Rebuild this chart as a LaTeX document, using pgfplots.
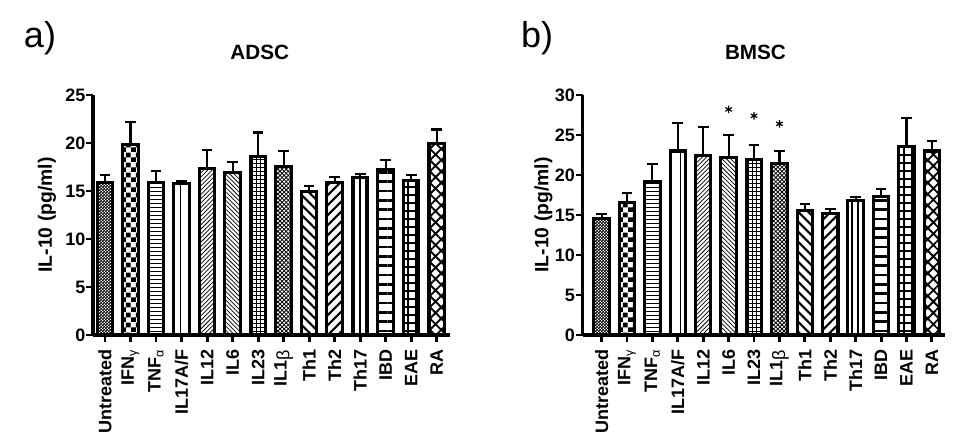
\documentclass[border=0pt]{standalone}
\usepackage{fontspec}
\setmainfont{Liberation Sans}
\usepackage{pgfplots}
\pgfplotsset{compat=1.18}
\usetikzlibrary{patterns,patterns.meta}

\pgfdeclarepatternformonly{bigchecker}{\pgfqpoint{0pt}{0pt}}{\pgfqpoint{7.6pt}{7.6pt}}{\pgfqpoint{7.6pt}{7.6pt}}{%
  \pgfpathrectangle{\pgfqpoint{0pt}{0pt}}{\pgfqpoint{3.8pt}{3.8pt}}%
  \pgfpathrectangle{\pgfqpoint{3.8pt}{3.8pt}}{\pgfqpoint{3.8pt}{3.8pt}}%
  \pgfusepath{fill}}
\pgfdeclarepatternformonly{smallchecker}{\pgfqpoint{0pt}{0pt}}{\pgfqpoint{2.2pt}{2.2pt}}{\pgfqpoint{2.2pt}{2.2pt}}{%
  \pgfpathrectangle{\pgfqpoint{0pt}{0pt}}{\pgfqpoint{1.2pt}{1.2pt}}%
  \pgfpathrectangle{\pgfqpoint{1.1pt}{1.1pt}}{\pgfqpoint{1.2pt}{1.2pt}}%
  \pgfusepath{fill}}

\pgfplotsset{
  mybar/.style={ybar, bar width=11.6pt, bar shift=0pt, draw=black, line width=2.3pt,
    error bars/y dir=plus, error bars/y explicit,
    error bars/error bar style={line width=1.6pt, black},
    error bars/error mark options={line width=1.6pt, mark size=4pt, black, rotate=90}},
  p0/.style={mybar, pattern=smallchecker},
  p1/.style={mybar, pattern=bigchecker},
  p2/.style={mybar, pattern={Lines[angle=0,distance=3pt,line width=0.5pt]}},
  p3/.style={mybar, pattern={Lines[angle=90,distance=7.5pt,line width=0.6pt]}},
  p4/.style={mybar, pattern={Lines[angle=45,distance=2.3pt,line width=0.55pt]}},
  p5/.style={mybar, pattern={Lines[angle=-45,distance=2.3pt,line width=0.55pt]}},
  p6/.style={mybar, pattern={Hatch[angle=0,distance=3pt,line width=0.55pt]}},
  p7/.style={mybar, pattern={Hatch[angle=45,distance=2.2pt,line width=0.6pt]}},
  p8/.style={mybar, pattern={Lines[angle=-45,distance=5.3pt,line width=1.6pt]}},
  p9/.style={mybar, pattern={Lines[angle=45,distance=5.3pt,line width=1.6pt]}},
  p10/.style={mybar, pattern={Lines[angle=90,distance=4.5pt,line width=1.5pt]}},
  p11/.style={mybar, pattern={Lines[angle=0,distance=7pt,line width=1.9pt]}},
  p12/.style={mybar, pattern={Hatch[angle=0,distance=6pt,line width=1.3pt]}},
  p13/.style={mybar, pattern={Hatch[angle=45,distance=6pt,line width=1.4pt]}},
  myaxis/.style={
    scale only axis, height=180pt, ymin=0,
    axis x line*=bottom, axis y line*=left,
    axis line style={line width=2.6pt},
    tick style={line width=2.2pt, black}, tick align=outside, major tick length=5pt,
    xtick={0,...,13},
    xticklabels={Untreated,IFN\textsubscript{\mdseries γ},TNF\textsubscript{\mdseries α},IL17A/F,IL12,IL6,IL23,IL1\raisebox{-0.3ex}{\mdseries β},Th1,Th2,Th17,IBD,EAE,RA},
    xticklabel style={rotate=90, anchor=east, font=\fontsize{13.5}{15}\selectfont\bfseries, inner sep=1.5pt, inner xsep=6pt},
    yticklabel style={font=\fontsize{13.5}{15}\selectfont\bfseries, inner sep=0.5pt},
    /pgf/number format/assume math mode=true,
    ylabel={IL-10 (pg/ml)},
    label style={font=\fontsize{14.5}{16}\selectfont\bfseries},
    title style={font=\fontsize{15.5}{17}\selectfont\bfseries, anchor=center, yshift=0pt},
    clip=false,
  },
}

\begin{document}
\begin{tikzpicture}
\path[use as bounding box] (0,0) rectangle (725.25pt,332.25pt);
\node[font=\fontsize{27}{29}\selectfont] at (30pt,303.75pt) {a)};
\node[font=\fontsize{27}{29}\selectfont] at (402.75pt,303.75pt) {b)};

\begin{axis}[myaxis, at={(69.75pt,81pt)}, anchor=south west, width=267.75pt,
  xmin=-0.47, xmax=13.52, ymax=25, ytick={0,5,...,25},
  ylabel style={at={(axis description cs:-0.129,0.5)}, anchor=center},
  title={ADSC}, title style={at={(axis description cs:0.467,1.146)}}]
\addplot[p0] coordinates {(0,15.9) +- (0,0.8)};
\addplot[p1] coordinates {(1,19.8) +- (0,2.4)};
\addplot[p2] coordinates {(2,15.9) +- (0,1.2)};
\addplot[p3] coordinates {(3,15.8) +- (0,0.2)};
\addplot[p4] coordinates {(4,17.3) +- (0,2.0)};
\addplot[p5] coordinates {(5,16.9) +- (0,1.1)};
\addplot[p6] coordinates {(6,18.6) +- (0,2.5)};
\addplot[p7] coordinates {(7,17.6) +- (0,1.6)};
\addplot[p8] coordinates {(8,14.9) +- (0,0.6)};
\addplot[p9] coordinates {(9,15.9) +- (0,0.6)};
\addplot[p10] coordinates {(10,16.4) +- (0,0.4)};
\addplot[p11] coordinates {(11,17.2) +- (0,1.0)};
\addplot[p12] coordinates {(12,16.1) +- (0,0.6)};
\addplot[p13] coordinates {(13,19.9) +- (0,1.5)};
\end{axis}

\begin{axis}[myaxis, at={(436.9pt,81pt)}, anchor=south west, width=271.9pt,
  xmin=-0.75, xmax=13.52, ymax=30, ytick={0,5,...,30},
  ylabel style={at={(axis description cs:-0.108,0.5)}, anchor=center},
  title={BMSC}, title style={at={(axis description cs:0.477,1.146)}}]
\addplot[p0] coordinates {(0,14.6) +- (0,0.5)};
\addplot[p1] coordinates {(1,16.6) +- (0,1.2)};
\addplot[p2] coordinates {(2,19.2) +- (0,2.2)};
\addplot[p3] coordinates {(3,23.0) +- (0,3.5)};
\addplot[p4] coordinates {(4,22.4) +- (0,3.6)};
\addplot[p5] coordinates {(5,22.2) +- (0,2.8)};
\addplot[p6] coordinates {(6,21.9) +- (0,1.8)};
\addplot[p7] coordinates {(7,21.4) +- (0,1.6)};
\addplot[p8] coordinates {(8,15.6) +- (0,0.8)};
\addplot[p9] coordinates {(9,15.2) +- (0,0.5)};
\addplot[p10] coordinates {(10,16.8) +- (0,0.4)};
\addplot[p11] coordinates {(11,17.3) +- (0,1.0)};
\addplot[p12] coordinates {(12,23.6) +- (0,3.5)};
\addplot[p13] coordinates {(13,23.0) +- (0,1.2)};
\addplot[only marks, mark=asterisk, mark size=2.8pt, line width=0.9pt, black] coordinates {(5,28.2) (6,27.4) (7,26.4)};
\end{axis}
\end{tikzpicture}
\end{document}
